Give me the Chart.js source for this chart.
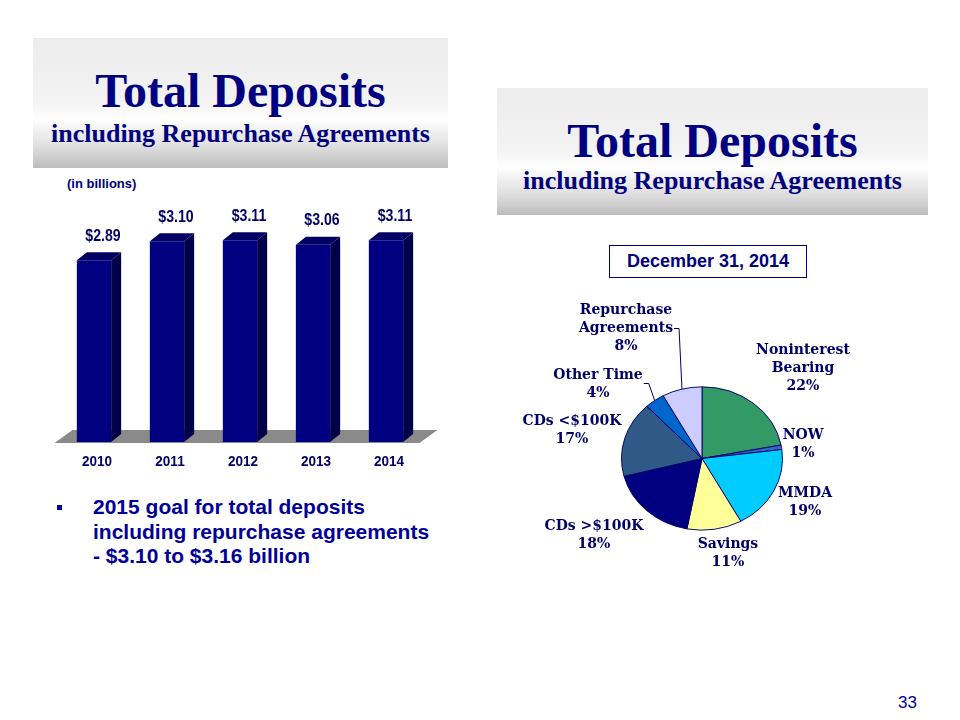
<!DOCTYPE html>
<html lang="en">
<head>
<meta charset="UTF-8">
<title>Total Deposits</title>
<script src="https://cdn.jsdelivr.net/npm/chart.js"></script>
<style>
    body {
        margin: 0;
        width: 960px;
        height: 720px;
        background: #fff;
        position: relative;
        overflow: hidden;
        font-family: Arial, 'Liberation Sans', sans-serif;
    }
    .title-box {
        position: absolute;
        background: linear-gradient(#ececec 0%, #f3f3f3 50%, #ffffff 62%, #dcdcdc 85%, #bcbcbc 100%);
        color: #000080;
        font-family: 'Liberation Serif', 'Times New Roman', serif;
        font-weight: bold;
        text-align: center;
    }
    .title-box .big {
        position: absolute;
        left: 0; right: 0;
        font-size: 48px;
        line-height: 48px;
    }
    .title-box .small {
        position: absolute;
        left: 0; right: 0;
        font-size: 26px;
        line-height: 26px;
    }
    #box1 { left: 33px; top: 38px; width: 415px; height: 130px; }
    #box2 { left: 497px; top: 88px; width: 431px; height: 127px; }
    #units {
        position: absolute;
        left: 67px; top: 176px;
        font-size: 13px;
        font-weight: bold;
        color: #000080;
    }
    #dateBox {
        position: absolute;
        left: 609px; top: 245px;
        width: 196px; height: 31px;
        border: 1px solid #000080;
        background: #fff;
        color: #000080;
        font-size: 18px;
        font-weight: bold;
        text-align: center;
        line-height: 31px;
    }
    #goal {
        position: absolute;
        left: 93px; top: 495px;
        font-size: 21px;
        line-height: 24.5px;
        font-weight: bold;
        color: #000099;
    }
    #bullet {
        position: absolute;
        left: 57px; top: 505px;
        width: 5px; height: 5px;
        background: #000099;
    }
    #pageNo {
        position: absolute;
        left: 898px; top: 693px;
        font-size: 17px;
        color: #000099;
    }
    #barCanvas { position: absolute; left: 30px; top: 190px; }
    #pieCanvas { position: absolute; left: 490px; top: 285px; }
</style>
</head>
<body>
    <div class="title-box" id="box1">
        <div class="big" style="top: 29px;">Total Deposits</div>
        <div class="small" style="top: 83px;">including Repurchase Agreements</div>
    </div>
    <div class="title-box" id="box2">
        <div class="big" style="top: 29px;">Total Deposits</div>
        <div class="small" style="top: 80px;">including Repurchase Agreements</div>
    </div>
    <div id="units">(in billions)</div>
    <canvas id="barCanvas" width="430" height="300"></canvas>
    <div id="dateBox">December 31, 2014</div>
    <canvas id="pieCanvas" width="380" height="300"></canvas>
    <div id="bullet"></div>
    <div id="goal">2015 goal for total deposits<br>including repurchase agreements<br>- $3.10 to $3.16 billion</div>
    <div id="pageNo">33</div>

<script>
    // bar chart data (in billions)
    const years = ['2010', '2011', '2012', '2013', '2014'];
    const deposits = [2.89, 3.10, 3.11, 3.06, 3.11];

    // pie chart data, Dec 31 2014 mix
    const mixLabels = [
        ['Noninterest', 'Bearing'], ['NOW'], ['MMDA'], ['Savings'],
        ['CDs >$100K'], ['CDs <$100K'], ['Other Time'], ['Repurchase', 'Agreements']
    ];
    const mixShares = [22, 1, 19, 11, 18, 17, 4, 8];
    const mixColors = ['#339966', '#3366cc', '#00ccff', '#ffff99', '#000080', '#2f5a88', '#0066cc', '#ccccff'];

    // label placement relative to pie centre (layout only)
    const labelOffsets = [[101, -90], [101, -14], [103, 44], [26, 95], [-108, 77], [-130, -28], [-104, -74], [-76, -130]];
    const leaders = { 6: { line: 0, dy: 8 }, 7: { line: 1, dy: 0 } };

    const NAVY = '#000066';
    const DX = 10, DY = 8;

    const bar3d = {
        id: 'bar3d',
        beforeDatasetsDraw(chart) {
            const { ctx, chartArea: a } = chart;
            ctx.save();
            ctx.fillStyle = '#8a8a8a';
            ctx.beginPath();
            ctx.moveTo(a.left - 3, a.bottom + 1);
            ctx.lineTo(a.left + 15, a.bottom - 12);
            ctx.lineTo(a.right + 15, a.bottom - 12);
            ctx.lineTo(a.right - 3, a.bottom + 1);
            ctx.closePath();
            ctx.fill();
            ctx.restore();
        },
        afterDatasetsDraw(chart) {
            const ctx = chart.ctx;
            const meta = chart.getDatasetMeta(0);
            const floor = chart.chartArea.bottom;
            ctx.save();
            meta.data.forEach((bar, i) => {
                const l = bar.x - bar.width / 2, r = bar.x + bar.width / 2;
                const t = bar.y, b = Math.min(bar.base, floor);
                // side
                ctx.fillStyle = '#00004a';
                ctx.beginPath();
                ctx.moveTo(r, t);
                ctx.lineTo(r + DX, t - DY);
                ctx.lineTo(r + DX, b - DY);
                ctx.lineTo(r, b);
                ctx.closePath();
                ctx.fill();
                // top
                ctx.fillStyle = '#000064';
                ctx.beginPath();
                ctx.moveTo(l, t);
                ctx.lineTo(l + DX, t - DY);
                ctx.lineTo(r + DX, t - DY);
                ctx.lineTo(r, t);
                ctx.closePath();
                ctx.fill();

                // value label, slightly condensed
                ctx.fillStyle = NAVY;
                ctx.textAlign = 'center';
                ctx.textBaseline = 'middle';
                ctx.font = 'bold 17px Arial';
                ctx.save();
                ctx.translate(bar.x + 9, t - 24);
                ctx.scale(0.83, 1);
                ctx.fillText('$' + deposits[i].toFixed(2), 0, 0);
                ctx.restore();

                // year label
                ctx.font = 'bold 15px Arial';
                ctx.save();
                ctx.translate(bar.x + 3, b + 20);
                ctx.scale(0.9, 1);
                ctx.fillText(years[i], 0, 0);
                ctx.restore();
            });
            ctx.restore();
        }
    };

    new Chart(document.getElementById('barCanvas'), {
        type: 'bar',
        data: {
            labels: years,
            datasets: [{
                data: deposits,
                backgroundColor: '#000080',
                borderWidth: 0,
                categoryPercentage: 1,
                barPercentage: 0.47
            }]
        },
        options: {
            responsive: false,
            animation: false,
            layout: { padding: { left: 27.5, right: 37.5, top: 15, bottom: 48 } },
            scales: {
                x: { display: false },
                y: { display: false, min: 0.88, max: 3.5 }
            },
            plugins: { legend: { display: false }, tooltip: { enabled: false } }
        },
        plugins: [bar3d]
    });

    const SQUISH = 0.89;

    const pieLook = {
        id: 'pieLook',
        beforeDatasetsDraw(chart) {
            const arc = chart.getDatasetMeta(0).data[0];
            const ctx = chart.ctx;
            ctx.save();
            ctx.translate(arc.x, arc.y);
            ctx.scale(1, SQUISH);
            ctx.translate(-arc.x, -arc.y);
        },
        afterDatasetsDraw(chart) {
            const ctx = chart.ctx;
            ctx.restore();
            const arcs = chart.getDatasetMeta(0).data;
            ctx.save();
            ctx.font = 'bold 14px "DejaVu Serif"';
            ctx.fillStyle = NAVY;
            ctx.strokeStyle = NAVY;
            ctx.lineWidth = 1;
            ctx.textAlign = 'center';
            ctx.textBaseline = 'middle';
            arcs.forEach((arc, i) => {
                const lines = mixLabels[i].concat([mixShares[i] + '%']);
                const cx = arc.x + labelOffsets[i][0];
                const cy = arc.y + labelOffsets[i][1];
                const top = cy - (lines.length - 1) * 9;
                lines.forEach((txt, k) => ctx.fillText(txt, cx, top + k * 18));

                const ld = leaders[i];
                if (ld) {
                    const w = ctx.measureText(lines[ld.line]).width;
                    const sx = cx + w / 2 + 1;
                    const sy = top + ld.line * 18 + ld.dy;
                    const mid = (arc.startAngle + arc.endAngle) / 2;
                    const ex = arc.x + Math.cos(mid) * arc.outerRadius;
                    const ey = arc.y + Math.sin(mid) * arc.outerRadius * SQUISH;
                    ctx.beginPath();
                    ctx.moveTo(sx, sy);
                    ctx.lineTo(sx + 5, sy);
                    ctx.lineTo(ex, ey);
                    ctx.stroke();
                }
            });
            ctx.restore();
        }
    };

    new Chart(document.getElementById('pieCanvas'), {
        type: 'pie',
        data: {
            labels: mixLabels.map(l => l.join(' ')),
            datasets: [{
                data: mixShares,
                backgroundColor: mixColors,
                borderColor: '#000066',
                borderWidth: 1
            }]
        },
        options: {
            responsive: false,
            animation: false,
            layout: { padding: { left: 131, right: 87, top: 92.5, bottom: 45.5 } },
            plugins: { legend: { display: false }, tooltip: { enabled: false } }
        },
        plugins: [pieLook]
    });
</script>
</body>
</html>
